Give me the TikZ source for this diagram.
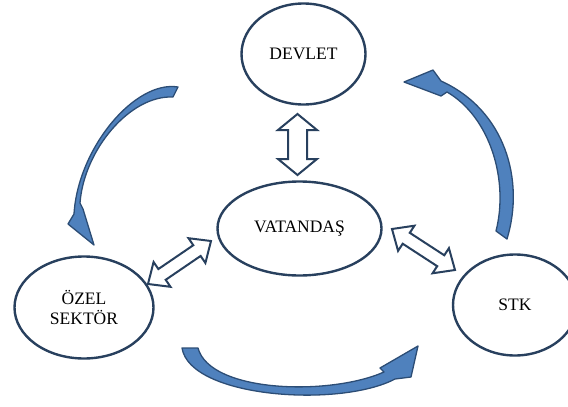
\documentclass[tikz,border=0pt]{standalone}
\usepackage{fontspec}
\setmainfont{Liberation Serif}
\usetikzlibrary{shapes.geometric,calc}
\definecolor{edge}{RGB}{40,64,94}
\definecolor{bluefill}{RGB}{79,129,189}
\definecolor{blueline}{RGB}{44,77,117}
\tikzset{
 oval/.style={ellipse, draw=edge, line width=2.4pt, inner sep=0pt, font=\fontsize{17.5}{20}\selectfont, text=black},
 hollow/.style={draw=edge, line width=2pt, fill=white, line join=miter},
 curvy/.style={fill=bluefill, draw=blueline, line width=1.3pt, line join=round},
}
% from, to, head half width, shaft half width, head length
\newcommand\blockarr[5]{%
 \draw[hollow] let \p1=(#1), \p2=(#2), \n1={atan2(\y2-\y1,\x2-\x1)}, \n2={veclen(\x2-\x1,\y2-\y1)} in
 [shift={(\p1)}, rotate=\n1] (0pt,0pt) -- (#5pt,#3pt) -- (#5pt,#4pt) -- (\n2-#5pt,#4pt) -- (\n2-#5pt,#3pt) -- (\n2+0pt,0pt) -- (\n2-#5pt,-#3pt) -- (\n2-#5pt,-#4pt) -- (#5pt,-#4pt) -- (#5pt,-#3pt) -- cycle;}
\begin{document}
\begin{tikzpicture}[x=1pt,y=-1pt]
\useasboundingbox (0,0) rectangle (568,407);
\node[oval, minimum width=124pt, minimum height=101pt] (dev) at (303.5,54) {DEVLET};
\node[oval, minimum width=164pt, minimum height=94pt] (vat) at (299.5,228.5) {VATANDAŞ};
\node[oval, minimum width=139pt, minimum height=102pt, align=center] (ozel) at (84,307.5) {ÖZEL\\SEKTÖR};
\node[oval, minimum width=124pt, minimum height=101pt] (stk) at (515,305) {STK};
% block double arrows
\coordinate (a1) at (297.5,114); \coordinate (a2) at (297.5,175);
\blockarr{a1}{a2}{19.5}{9.5}{16}
\coordinate (b1) at (148,284); \coordinate (b2) at (211,241);
\blockarr{b1}{b2}{15}{6.5}{17}
\coordinate (c1) at (392,229); \coordinate (c2) at (455,270);
\blockarr{c1}{c2}{15}{6.5}{17}
% curved arrows
\draw[curvy] (178,87) .. controls (135,80) and (78,148) .. (74,214) -- (68,224) -- (94,245) -- (83,209) -- (80,203) .. controls (84,150) and (130,95) .. (173,97) -- cycle;
\draw[curvy] (496,231) .. controls (509,180) and (490,117) .. (447,92) -- (441,96) -- (404,82) -- (433,70) -- (441,81) .. controls (505,110) and (525,180) .. (507,239) -- cycle;
\draw[curvy] (182,348) -- (198,348) .. controls (210,393) and (330,396) .. (384,372) -- (380,368) -- (418,346) -- (411,377) -- (395,379) .. controls (340,408) and (190,398) .. (182,348) -- cycle;
\end{tikzpicture}
\end{document}
